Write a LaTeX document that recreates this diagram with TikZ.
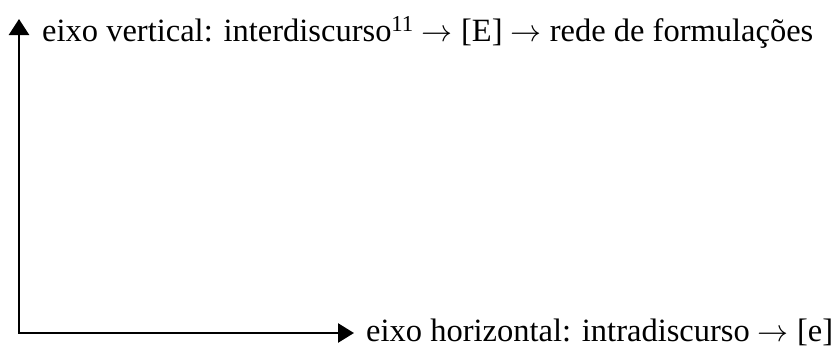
\documentclass[tikz,border=0pt]{standalone}
\usepackage{graphicx}
\usepackage{fontspec}
\setmainfont{Liberation Serif}
\usetikzlibrary{arrows.meta}
\newcommand{\ar}{\resizebox{31pt}{!}{$\rightarrow$}}
\begin{document}
\begin{tikzpicture}[x=1pt,y=-1pt,
  axis/.style={line width=2.6pt, line join=miter,
    {Triangle[length=16pt,width=20pt]}-{Triangle[length=16pt,width=19pt]}},
  lbl/.style={inner sep=0pt, anchor=base west, font=\fontsize{32.5}{38}\selectfont}]
\useasboundingbox (0,0) rectangle (840,354);
\coordinate (ytip) at (19,19);
\coordinate (orig) at (19,333);
\coordinate (xtip) at (354,333);
\draw[axis] (ytip) -- (orig) -- (xtip);
\node[lbl] (vlabel) at (42,41) {eixo vertical: interdiscurso\textsuperscript{11} \ar{} [E] \ar{} rede de formulações};
\node[lbl] (hlabel) at (366,341) {eixo horizontal: intradiscurso \ar{} [e]};
\end{tikzpicture}
\end{document}
